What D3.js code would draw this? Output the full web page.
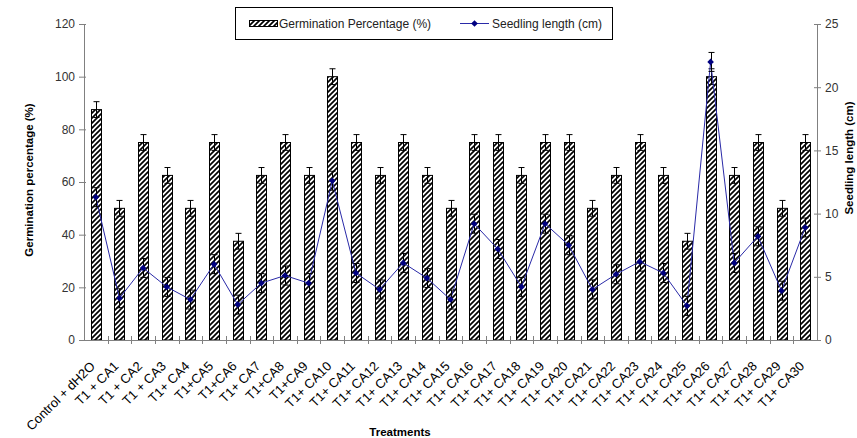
<!DOCTYPE html>
<html lang="en">
<head>
<meta charset="UTF-8">
<script src="https://d3js.org/d3.v7.min.js"></script>
<style>
  body { margin: 0; background: #fff; }
  text { font-family: "Liberation Sans", Arial, sans-serif; }
</style>
</head>
<body>
<script>
var treatments = ["Control + dH2O", "T1 + CA1", "T1 + CA2", "T1 + CA3", "T1+ CA4", "T1+CA5", "T1+CA6",
  "T1+ CA7", "T1+CA8", "T1+CA9", "T1+ CA10", "T1+ CA11", "T1+ CA12", "T1+ CA13", "T1+ CA14", "T1+ CA15",
  "T1+ CA16", "T1+ CA17", "T1+ CA18", "T1+ CA19", "T1+ CA20", "T1+ CA21", "T1+ CA22", "T1+ CA23",
  "T1+ CA24", "T1+ CA25", "T1+ CA26", "T1+ CA27", "T1+ CA28", "T1+ CA29", "T1+ CA30"];
var germination = [87.5, 50, 75, 62.5, 50, 75, 37.5, 62.5, 75, 62.5, 100, 75, 62.5, 75, 62.5, 50,
  75, 75, 62.5, 75, 75, 50, 62.5, 75, 62.5, 37.5, 100, 62.5, 75, 50, 75];
var germErr = [3, 3, 3, 3, 3, 3, 3, 3, 3, 3, 3, 3, 3, 3, 3, 3, 3, 3, 3, 3, 3, 3, 3, 3, 3, 3, 3, 3, 3, 3, 3];
var seedling = [11.3, 3.3, 5.7, 4.2, 3.2, 6.0, 2.8, 4.5, 5.1, 4.5, 12.6, 5.3, 4.0, 6.1, 4.9, 3.2,
  9.2, 7.2, 4.2, 9.2, 7.5, 4.0, 5.2, 6.2, 5.3, 2.7, 22.0, 6.1, 8.2, 3.9, 8.9];
var seedErr = [0.75, 0.75, 0.75, 0.75, 0.75, 0.75, 0.75, 0.75, 0.75, 0.75, 0.75, 0.75, 0.75, 0.75, 0.75, 0.75,
  0.75, 0.75, 0.75, 0.75, 0.75, 0.75, 0.75, 0.75, 0.75, 0.75, 0.75, 0.75, 0.75, 0.75, 0.75];
var leftTicks = [0, 20, 40, 60, 80, 100, 120];
var rightTicks = [0, 5, 10, 15, 20, 25];

var W = 857, H = 438;
var plotLeft = 84, plotRight = 817, plotTop = 24, plotBottom = 340;

var svg = d3.select("body").append("svg").attr("width", W).attr("height", H);

var defs = svg.append("defs");
var pat = defs.append("pattern").attr("id", "hatch")
  .attr("patternUnits", "userSpaceOnUse").attr("width", 5).attr("height", 5);
pat.append("rect").attr("width", 5).attr("height", 5).attr("fill", "#fff");
pat.append("path").attr("d", "M-1,1 l2,-2 M0,5 l5,-5 M4,6 l2,-2")
  .attr("stroke", "#000").attr("stroke-width", 1.7);

var x = d3.scaleBand().domain(treatments).range([plotLeft, plotRight]);
var yL = d3.scaleLinear().domain([0, 120]).range([plotBottom, plotTop]);
var yR = d3.scaleLinear().domain([0, 25]).range([plotBottom, plotTop]);
var barW = 10;

// bars
svg.selectAll(".bar").data(treatments).enter().append("rect")
  .attr("class", "bar")
  .attr("x", function(d) { return Math.round(x(d) + x.bandwidth() / 2 - barW / 2) + 0.5; })
  .attr("y", function(d, i) { return yL(germination[i]); })
  .attr("width", barW)
  .attr("height", function(d, i) { return plotBottom - yL(germination[i]); })
  .attr("fill", "url(#hatch)")
  .attr("stroke", "#000").attr("stroke-width", 1);

// bar error bars
var eb = svg.append("g").attr("stroke", "#000").attr("stroke-width", 1);
treatments.forEach(function(d, i) {
  var cx = Math.round(x(d) + x.bandwidth() / 2) + 0.5;
  var y0 = yL(germination[i] - germErr[i]), y1 = yL(germination[i] + germErr[i]);
  eb.append("line").attr("x1", cx).attr("x2", cx).attr("y1", y0).attr("y2", y1);
  eb.append("line").attr("x1", cx - 3).attr("x2", cx + 3).attr("y1", y1).attr("y2", y1);
  eb.append("line").attr("x1", cx - 3).attr("x2", cx + 3).attr("y1", y0).attr("y2", y0);
});

// axes
var axL = svg.append("g").attr("transform", "translate(" + plotLeft + ",0)")
  .call(d3.axisLeft(yL).tickValues(leftTicks).tickSize(5).tickPadding(4));
var axR = svg.append("g").attr("transform", "translate(" + plotRight + ",0)")
  .call(d3.axisRight(yR).tickValues(rightTicks).tickSize(4).tickPadding(4));
var axB = svg.append("g").attr("transform", "translate(0," + plotBottom + ")")
  .call(d3.axisBottom(x).tickSize(0).tickFormat(""));
[axL, axR, axB].forEach(function(a) {
  a.select(".domain").attr("stroke", "#808080");
  a.selectAll(".tick line").attr("stroke", "#808080");
  a.selectAll(".tick text").attr("font-size", 12).attr("fill", "#333")
    .attr("font-family", "'Liberation Sans', Arial, sans-serif");
});
axL.selectAll(".tick line").attr("x1", 2);
axR.selectAll(".tick line").attr("x1", -3);

// category separator ticks
var sep = svg.append("g").attr("stroke", "#808080");
treatments.forEach(function(d, i) {
  if (i === 0) return;
  var xx = Math.round(x(d)) + 0.5;
  sep.append("line").attr("x1", xx).attr("x2", xx).attr("y1", plotBottom - 4).attr("y2", plotBottom + 4);
});

// seedling line
var line = d3.line()
  .x(function(d, i) { return x(treatments[i]) + x.bandwidth() / 2; })
  .y(function(d) { return yR(d); });
svg.append("path").datum(seedling).attr("d", line)
  .attr("fill", "none").attr("stroke", "#2a2aa8").attr("stroke-width", 1);

var se = svg.append("g").attr("stroke", "#000").attr("stroke-width", 1);
treatments.forEach(function(d, i) {
  var cx = Math.round(x(d) + x.bandwidth() / 2) + 0.5;
  var y0 = yR(seedling[i] - seedErr[i]), y1 = yR(seedling[i] + seedErr[i]);
  se.append("line").attr("x1", cx).attr("x2", cx).attr("y1", y0).attr("y2", y1);
  se.append("line").attr("x1", cx - 3).attr("x2", cx + 3).attr("y1", y1).attr("y2", y1);
  se.append("line").attr("x1", cx - 3).attr("x2", cx + 3).attr("y1", y0).attr("y2", y0);
});

svg.selectAll(".pt").data(seedling).enter().append("path")
  .attr("class", "pt")
  .attr("d", d3.symbol().type(d3.symbolDiamond2).size(28))
  .attr("transform", function(d, i) {
    return "translate(" + (x(treatments[i]) + x.bandwidth() / 2) + "," + yR(d) + ")";
  })
  .attr("fill", "#000080");

// x labels
svg.selectAll(".xl").data(treatments).enter().append("text")
  .attr("class", "xl")
  .attr("transform", function(d) {
    return "translate(" + (x(d) + x.bandwidth() / 2) + "," + (plotBottom + 27) + ") rotate(-45)";
  })
  .attr("text-anchor", "end")
  .attr("font-size", 13)
  .attr("fill", "#000")
  .text(function(d) { return d; });

// axis titles
svg.append("text").attr("transform", "translate(33,180) rotate(-90)")
  .attr("text-anchor", "middle").attr("font-size", 11.5).attr("font-weight", "bold")
  .text("Germination percentage (%)");
svg.append("text").attr("transform", "translate(853,158) rotate(-90)")
  .attr("text-anchor", "middle").attr("font-size", 11.5).attr("font-weight", "bold")
  .text("Seedling length (cm)");
svg.append("text").attr("x", 400).attr("y", 436)
  .attr("text-anchor", "middle").attr("font-size", 11.5).attr("font-weight", "bold")
  .text("Treatments");

// legend
var lg = svg.append("g");
lg.append("rect").attr("x", 235.5).attr("y", 7.5).attr("width", 377).attr("height", 32)
  .attr("fill", "#fff").attr("stroke", "#000");
lg.append("rect").attr("x", 249.5).attr("y", 20.5).attr("width", 28).attr("height", 6)
  .attr("fill", "url(#hatch)").attr("stroke", "#000");
lg.append("text").attr("x", 279).attr("y", 27.5).attr("font-size", 12).attr("fill", "#222")
  .text("Germination Percentage (%)");
lg.append("line").attr("x1", 460).attr("x2", 489).attr("y1", 23.5).attr("y2", 23.5)
  .attr("stroke", "#2a2aa8");
lg.append("path").attr("d", d3.symbol().type(d3.symbolDiamond2).size(28))
  .attr("transform", "translate(474.5,23.5)").attr("fill", "#000080");
lg.append("text").attr("x", 492).attr("y", 27.5).attr("font-size", 12).attr("fill", "#222")
  .text("Seedling length (cm)");
</script>
</body>
</html>
